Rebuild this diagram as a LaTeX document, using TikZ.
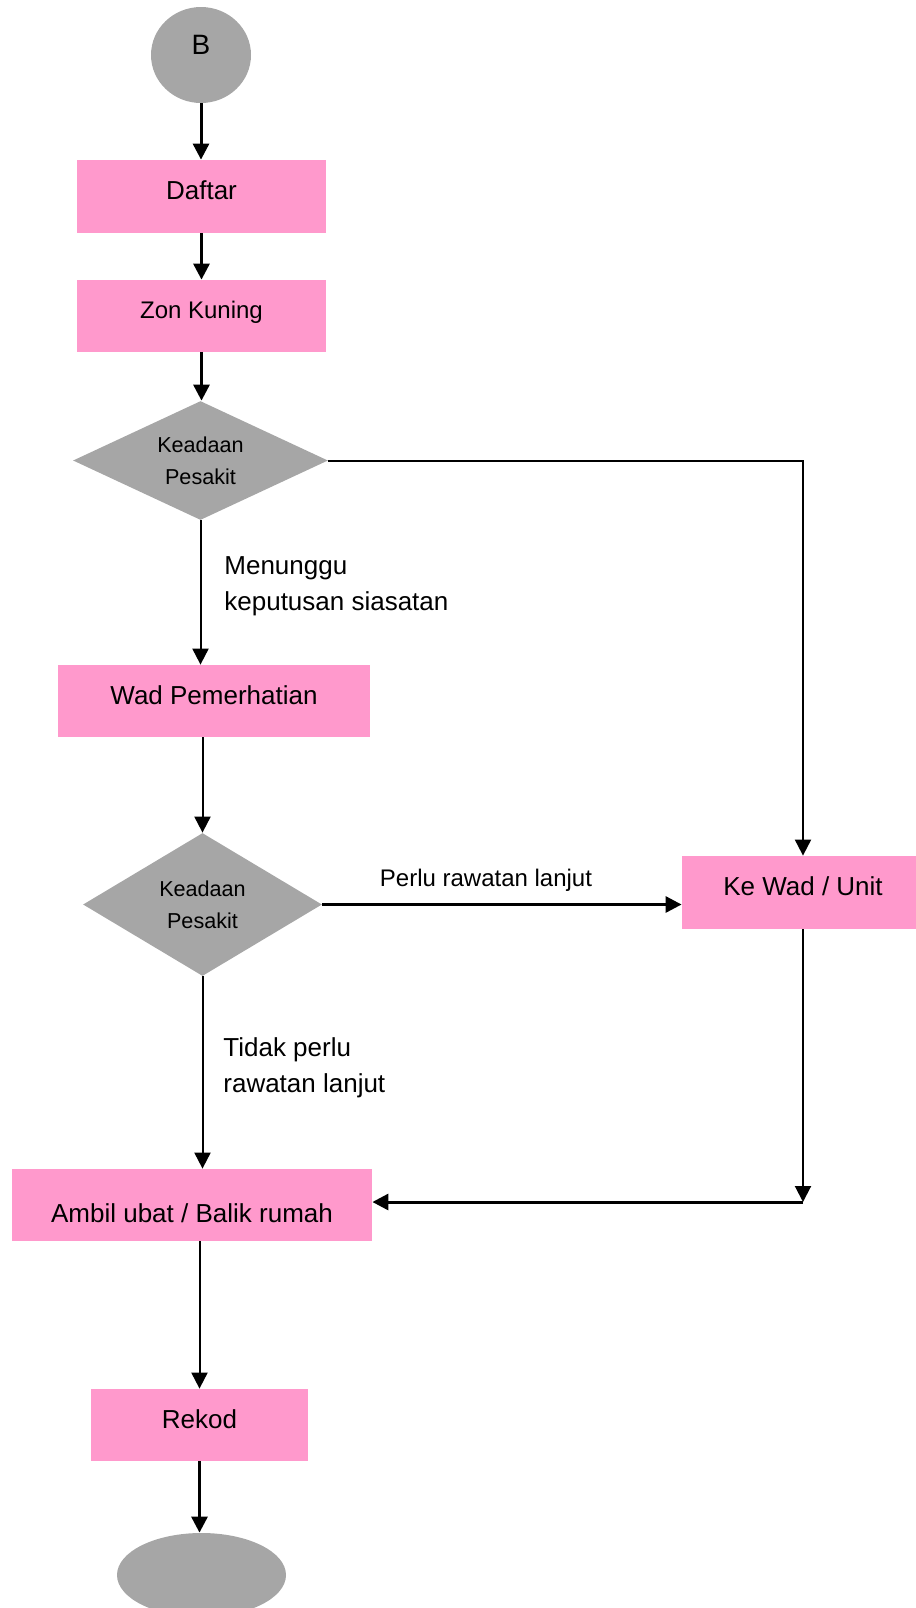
\documentclass[tikz,border=0pt]{standalone}
\usepackage{fontspec}
\setmainfont{Liberation Sans}
\usetikzlibrary{arrows.meta,shapes.geometric}
\definecolor{pinkc}{HTML}{FF99CC}
\definecolor{grayc}{HTML}{A6A6A6}
\begin{document}
\begin{tikzpicture}[x=0.5pt,y=-0.5pt,
  box/.style={rectangle, fill=pinkc, inner sep=0pt, font=\fontsize{13}{15.6}\selectfont, text height=9.3pt, text depth=6.2pt},
  dec/.style={diamond, fill=grayc, inner sep=0pt, align=center, font=\fontsize{10.8}{16}\selectfont},
  term/.style={ellipse, fill=grayc, inner sep=0pt},
  lbl/.style={inner sep=0pt, align=left, font=\fontsize{13}{18}\selectfont},
  conn/.style={line width=1pt, -{Triangle[length=8pt,width=8pt]}},
  connb/.style={line width=1.5pt, -{Triangle[length=8pt,width=8pt]}},
]
\useasboundingbox (0,0) rectangle (916,1608);

\node[term, minimum width=50pt, minimum height=48pt, font=\fontsize{14}{16}\selectfont, text height=10pt, text depth=11pt] (B) at (201,55) {B};
\node[box, minimum width=124.5pt, minimum height=36.5pt] (daftar) at (201.5,196.5) {Daftar};
\node[box, minimum width=124.5pt, minimum height=36pt, font=\fontsize{12}{14}\selectfont, text height=8.6pt] (zon) at (201.5,316) {Zon Kuning};
\node[dec, aspect=2.14, minimum width=127.5pt, minimum height=59.5pt] (d1) at (200.5,460.5) {Keadaan\\Pesakit};
\node[box, minimum width=156pt, minimum height=36pt] (wad) at (214,701) {Wad Pemerhatian};
\node[dec, aspect=1.67, minimum width=119.5pt, minimum height=71.5pt] (d2) at (202.5,904.5) {Keadaan\\Pesakit};
\node[box, minimum width=121pt, minimum height=36.5pt] (kw) at (803,892.5) {Ke Wad / Unit};
\node[box, minimum width=180pt, minimum height=36pt, text height=17.3pt, text depth=0pt] (amb) at (192,1205) {Ambil ubat / Balik rumah};
\node[box, minimum width=108.5pt, minimum height=36pt] (rekod) at (199.5,1425) {Rekod};
\node[term, minimum width=84.5pt, minimum height=42pt] (stop) at (201.5,1575) {};

\node[lbl, anchor=north west] (l1) at (224,556) {Menunggu\\keputusan siasatan};
\node[lbl, anchor=north west] (l2) at (223,1037) {Tidak perlu\\rawatan lanjut};
\node[inner sep=0pt, anchor=base, font=\fontsize{12}{14}\selectfont] (l3) at (486,886) {Perlu rawatan lanjut};

\draw[connb] (B.south) -- (B.south |- daftar.north);
\draw[connb] (daftar.south) -- (daftar.south |- zon.north);
\draw[connb] (zon.south) -- (zon.south |- d1.north);
\draw[conn] (d1.south) -- (d1.south |- wad.north);
\draw[conn] (wad.south -| d2.north) -- (d2.north);
\draw[conn] (d1.east) -- (d1.east -| kw.north) -- (kw.north);
\draw[connb] (d2.east) -- (d2.east -| kw.west);
\draw[conn] (d2.south) -- (d2.south |- amb.north);
\coordinate[yshift=1.5pt] (corner) at (kw.south |- amb.east);
\draw[conn] (kw.south) -- (corner);
\draw[connb] (corner) -- (corner -| amb.east);
\draw[conn] (amb.south -| rekod.north) -- (rekod.north);
\draw[connb] (rekod.south) -- (rekod.south |- stop.north);
\end{tikzpicture}
\end{document}
